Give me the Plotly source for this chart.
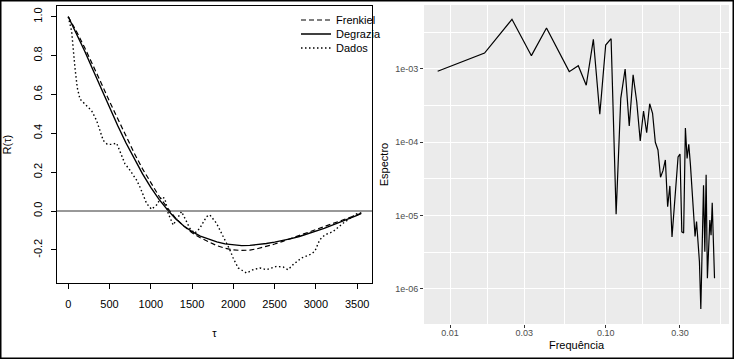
import plotly.graph_objects as go

# ---------------- data: left panel (autocorrelation) ----------------
tau_model = [0, 100, 200, 300, 400, 500, 600, 700, 800, 900, 1000, 1100, 1200,
             1300, 1400, 1500, 1600, 1700, 1800, 1900, 2000, 2100, 2200, 2300,
             2400, 2500, 2600, 2700, 2800, 2900, 3000, 3100, 3200, 3300, 3400,
             3500, 3550]
frenkiel = [1.000, 0.924, 0.840, 0.751, 0.658, 0.564, 0.472, 0.382, 0.297, 0.217,
            0.143, 0.076, 0.017, -0.036, -0.078, -0.112, -0.138, -0.160, -0.178,
            -0.192, -0.200, -0.203, -0.201, -0.193, -0.183, -0.170, -0.156, -0.141,
            -0.125, -0.109, -0.093, -0.077, -0.062, -0.047, -0.033, -0.019, -0.012]
degrazia = [1.000, 0.914, 0.822, 0.726, 0.629, 0.532, 0.439, 0.350, 0.267, 0.191,
            0.122, 0.060, 0.007, -0.040, -0.077, -0.106, -0.129, -0.146, -0.159,
            -0.169, -0.175, -0.178, -0.177, -0.173, -0.167, -0.160, -0.152, -0.142,
            -0.131, -0.118, -0.104, -0.089, -0.073, -0.057, -0.040, -0.022, -0.012]
tau_dados = [0, 41, 81, 109, 142, 202, 283, 344, 384, 424, 472, 525, 586, 626, 686,
             747, 828, 868, 949, 1009, 1070, 1130, 1170, 1211, 1271, 1373, 1473, 1534,
             1594, 1675, 1715, 1796, 1877, 1958, 1998, 2058, 2160, 2240, 2321, 2402,
             2523, 2603, 2663, 2724, 2825, 2926, 2987, 3047, 3108, 3208, 3329, 3410,
             3491, 3552]
dados = [1.0, 0.925, 0.738, 0.635, 0.576, 0.551, 0.516, 0.465, 0.414, 0.363, 0.343,
         0.343, 0.349, 0.303, 0.244, 0.21, 0.159, 0.124, 0.039, 0.009, 0.031, 0.073,
         0.065, -0.012, -0.072, -0.003, -0.089, -0.114, -0.089, -0.029, -0.020,
         -0.063, -0.131, -0.200, -0.242, -0.293, -0.319, -0.302, -0.293, -0.302,
         -0.285, -0.288, -0.302, -0.276, -0.242, -0.225, -0.208, -0.148, -0.123,
         -0.106, -0.063, -0.037, -0.015, -0.009]
left_xticks = [0, 500, 1000, 1500, 2000, 2500, 3000, 3500]
left_yticks = [-0.2, 0.0, 0.2, 0.4, 0.6, 0.8, 1.0]
left_yticktext = ["-0.2", "0.0", "0.2", "0.4", "0.6", "0.8", "1.0"]
legend_names = ["Frenkiel", "Degrazia", "Dados"]

# ---------------- data: right panel (spectrum) ----------------
freq = [0.00833, 0.01667, 0.025, 0.03333, 0.04167, 0.05, 0.05833, 0.06667, 0.075,
        0.08333, 0.09167, 0.1, 0.10833, 0.11667, 0.125, 0.13333, 0.14167, 0.15,
        0.15833, 0.16667, 0.175, 0.18333, 0.19167, 0.2, 0.20833, 0.21667, 0.225,
        0.23333, 0.24167, 0.25, 0.25833, 0.26667, 0.275, 0.28333, 0.29167, 0.3,
        0.30833, 0.31667, 0.325, 0.33333, 0.34167, 0.35, 0.35833, 0.36667, 0.375,
        0.38333, 0.39167, 0.4, 0.40833, 0.41667, 0.425, 0.43333, 0.44167, 0.45,
        0.45833, 0.46667, 0.475, 0.48333, 0.49167, 0.5]
espectro = [9.3e-4, 1.65e-3, 4.76e-3, 1.52e-3, 3.62e-3, 1.72e-3, 9.2e-4, 1.11e-3,
            6.0e-4, 2.54e-3, 2.41e-4, 2.12e-3, 2.59e-3, 1.04e-5, 3.98e-4, 1.0e-3,
            1.67e-4, 8.3e-4, 3.55e-4, 1.04e-4, 2.67e-4, 1.35e-4, 3.36e-4, 2.49e-4,
            1.0e-4, 7.85e-5, 3.33e-5, 4.1e-5, 5.74e-5, 1.32e-5, 2.54e-5, 5.1e-6,
            1.2e-5, 2.9e-5, 6.3e-5, 6.9e-5, 6.0e-6, 5.8e-6, 1.56e-4, 6.0e-5,
            9.4e-5, 5.0e-5, 2.0e-5, 9.0e-6, 5.2e-6, 8.3e-6, 4.6e-6, 2.35e-6,
            5.3e-7, 5.0e-6, 2.6e-5, 3.2e-6, 3.6e-5, 1.4e-6, 4.0e-6, 8.7e-6,
            5.4e-6, 1.5e-5, 4.5e-6, 1.4e-6]
right_xticks = [0.01, 0.03, 0.1, 0.3]
right_xticktext = ["0.01", "0.03", "0.10", "0.30"]
right_xminor = [0.01732, 0.05477, 0.1732, 0.5477]
right_yticks = [1e-3, 1e-4, 1e-5, 1e-6]
right_yticktext = ["1e-03", "1e-04", "1e-05", "1e-06"]
right_yminor = [3.162e-3, 3.162e-4, 3.162e-5, 3.162e-6]

FONT = "Liberation Sans, Arial, Helvetica, sans-serif"
W, H = 734, 359

fig = go.Figure()
fig.add_trace(go.Scatter(x=tau_model, y=frenkiel, mode="lines",
                         name=legend_names[0],
                         line=dict(color="black", width=1.2, dash="5px,3px"),
                         xaxis="x", yaxis="y", legend="legend"))
fig.add_trace(go.Scatter(x=tau_model, y=degrazia, mode="lines",
                         name=legend_names[1],
                         line=dict(color="black", width=1.4),
                         xaxis="x", yaxis="y", legend="legend2"))
fig.add_trace(go.Scatter(x=tau_dados, y=dados, mode="lines",
                         name=legend_names[2],
                         line=dict(color="black", width=1.4, dash="1.5px,2.5px"),
                         xaxis="x", yaxis="y", legend="legend3"))
fig.add_trace(go.Scatter(x=freq, y=espectro, mode="lines", showlegend=False,
                         line=dict(color="black", width=1.2),
                         xaxis="x2", yaxis="y2"))

fig.add_hline(y=0, line=dict(color="#333333", width=1))

# gray ggplot panel background
fig.add_shape(type="rect", xref="paper", yref="paper",
              x0=424 / W, x1=729 / W, y0=1 - 324 / H, y1=1 - 5 / H,
              fillcolor="#EBEBEB", line=dict(width=0), layer="below")
# outer frame
fig.add_shape(type="rect", xref="paper", yref="paper", x0=0, x1=1, y0=0, y1=1,
              line=dict(color="black", width=3), fillcolor="rgba(0,0,0,0)")


def leg(row_y):
    return dict(x=(325 - 29) / W, y=1 - row_y / H, xanchor="left", yanchor="middle",
                bgcolor="rgba(0,0,0,0)", font=dict(size=11, family=FONT),
                itemwidth=30, borderwidth=0)


fig.update_layout(
    width=W, height=H,
    margin=dict(l=0, r=0, t=0, b=0),
    paper_bgcolor="white", plot_bgcolor="rgba(0,0,0,0)",
    font=dict(family=FONT, size=11, color="black"),
    showlegend=True,
    legend=leg(20), legend2=leg(34), legend3=leg(48),
    xaxis=dict(domain=[56.7 / W, 372 / W], range=[-140, 3680], anchor="y",
               tickvals=left_xticks, ticks="outside", ticklen=5, tickcolor="black",
               ticklabelstandoff=5,
               showline=True, mirror=True, linecolor="black", linewidth=1,
               showgrid=False, zeroline=False, tickfont=dict(size=11),
               title=dict(text="τ", font=dict(size=11), standoff=20)),
    yaxis=dict(domain=[1 - 283.3 / H, 1 - 6 / H], range=[-0.372, 1.055], anchor="x",
               tickvals=left_yticks, ticktext=left_yticktext, tickangle=-90,
               ticks="outside", ticklen=5, tickcolor="black",
               ticklabelstandoff=4,
               showline=True, mirror=True, linecolor="black", linewidth=1,
               showgrid=False, zeroline=False, tickfont=dict(size=11),
               title=dict(text="R(τ)", font=dict(size=11), standoff=18)),
    xaxis2=dict(domain=[424 / W, 729 / W], type="log", range=[-2.167, -0.208],
                anchor="y2", tickvals=right_xticks, ticktext=right_xticktext,
                ticks="outside", ticklen=3, tickcolor="#333333", tickwidth=1,
                ticklabelstandoff=-3,
                showgrid=True, gridcolor="white", gridwidth=1.3,
                minor=dict(tickvals=right_xminor, showgrid=True, gridcolor="white",
                           gridwidth=0.6, ticks=""),
                showline=False, zeroline=False,
                tickfont=dict(size=9, color="#4D4D4D"),
                title=dict(text="Frequência", font=dict(size=11), standoff=4)),
    yaxis2=dict(domain=[1 - 324 / H, 1 - 5 / H], type="log", range=[-6.479, -2.127],
                anchor="x2", tickvals=right_yticks, ticktext=right_yticktext,
                ticks="outside", ticklen=3, tickcolor="#333333", tickwidth=1,
                showgrid=True, gridcolor="white", gridwidth=1.3,
                minor=dict(tickvals=right_yminor, showgrid=True, gridcolor="white",
                           gridwidth=0.6, ticks=""),
                showline=False, zeroline=False,
                tickfont=dict(size=9, color="#4D4D4D"),
                title=dict(text="Espectro", font=dict(size=11), standoff=4)),
)

fig.write_html("out.html",
               config={"displayModeBar": False},
               post_script="document.body.style.margin='0px';"
                           "document.body.style.overflow='hidden';")
